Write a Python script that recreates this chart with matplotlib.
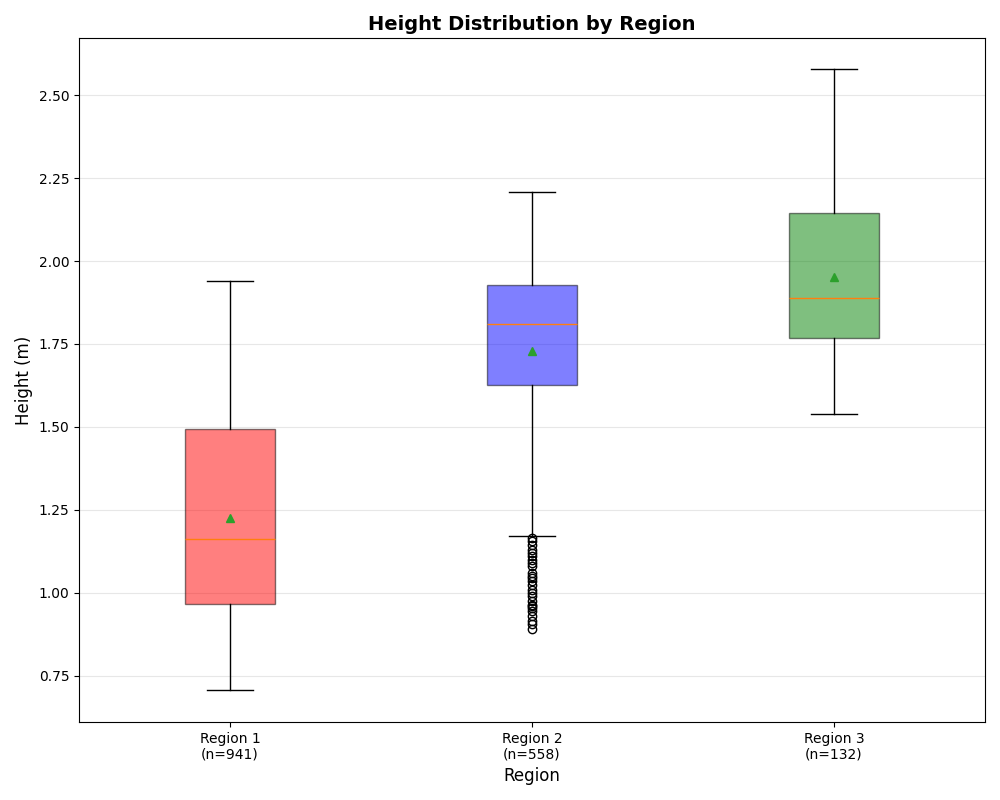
import matplotlib
matplotlib.use("Agg")
import matplotlib.pyplot as plt

regions = ["Region 1", "Region 2", "Region 3"]
counts = [941, 558, 132]
whislo = [0.708, 1.172, 1.539]
q1 = [0.967, 1.627, 1.768]
med = [1.163, 1.810, 1.889]
q3 = [1.494, 1.928, 2.145]
whishi = [1.940, 2.208, 2.578]
means = [1.226, 1.729, 1.952]
fliers_r1 = []
fliers_r2 = [1.165, 1.155, 1.145, 1.13, 1.12, 1.11, 1.10, 1.09, 1.08, 1.06,
             1.05, 1.045, 1.035, 1.025, 1.01, 1.00, 0.99, 0.975, 0.965, 0.96,
             0.955, 0.945, 0.93, 0.915, 0.905, 0.89]
fliers_r3 = []
fliers = [fliers_r1, fliers_r2, fliers_r3]
colors = ["red", "blue", "green"]

stats = []
for i in range(len(regions)):
    stats.append(dict(med=med[i], q1=q1[i], q3=q3[i], whislo=whislo[i],
                      whishi=whishi[i], mean=means[i], fliers=fliers[i],
                      label=f"{regions[i]}\n(n={counts[i]})"))

fig, ax = plt.subplots(figsize=(10, 8), dpi=100)
bp = ax.bxp(stats, positions=[1, 2, 3], widths=0.3, patch_artist=True,
            showmeans=True)
for patch, c in zip(bp["boxes"], colors):
    patch.set_facecolor(c)
    patch.set_alpha(0.5)

ax.set_xlim(0.5, 3.5)
ax.set_ylim(0.611, 2.672)
ax.set_yticks([0.75, 1.0, 1.25, 1.5, 1.75, 2.0, 2.25, 2.5])
ax.yaxis.set_major_formatter(matplotlib.ticker.FormatStrFormatter("%.2f"))
ax.grid(True, axis="y", alpha=0.3)
ax.set_axisbelow(True)
ax.set_title("Height Distribution by Region", fontsize=14, fontweight="bold")
ax.set_xlabel("Region", fontsize=12)
ax.set_ylabel("Height (m)", fontsize=12)
fig.subplots_adjust(left=0.079, right=0.985, top=0.9525, bottom=0.0975)
fig.savefig("out.png", dpi=100)
